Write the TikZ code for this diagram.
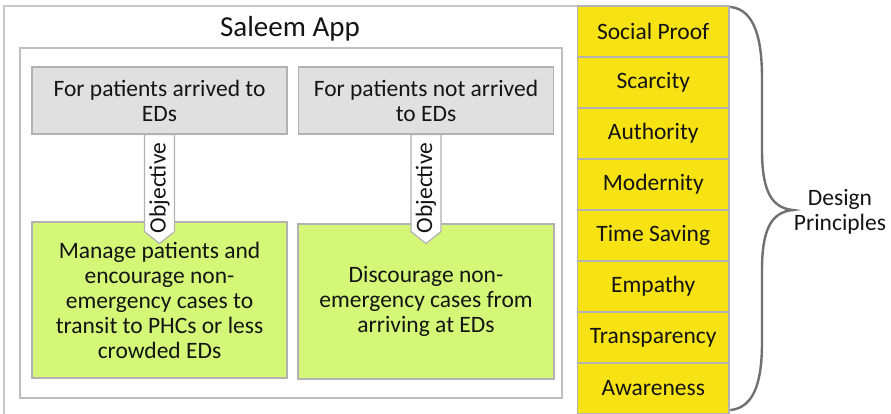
\documentclass[tikz,border=0pt]{standalone}
\usepackage{fontspec}
\setmainfont{Carlito}
\definecolor{framegray}{RGB}{200,200,200}
\definecolor{boxline}{RGB}{178,178,178}
\definecolor{headfill}{RGB}{224,224,224}
\definecolor{goalfill}{RGB}{213,247,120}
\definecolor{principlefill}{RGB}{247,226,20}
\definecolor{bracegray}{RGB}{112,112,112}
\definecolor{ink}{RGB}{20,20,20}
\begin{document}
\begin{tikzpicture}[x=1pt,y=-1pt,
  every node/.style={text=ink, font=\fontsize{23.5}{25}\selectfont},
  frame/.style={draw=framegray, line width=1.3pt, fill=white, inner sep=0pt},
  headbox/.style={draw=boxline, line width=1.2pt, fill=headfill, align=center,
    minimum width=255pt, minimum height=67pt, inner sep=0pt},
  goalbox/.style={draw=boxline, line width=1.2pt, fill=goalfill, align=center,
    minimum width=255pt, minimum height=156pt, inner sep=0pt},
  principle/.style={draw=boxline, line width=1.2pt, fill=principlefill,
    minimum width=151.5pt, minimum height=51pt, inner sep=0pt},
  objarrow/.style={draw=boxline, line width=1.2pt, fill=white, line join=miter},
  bracestyle/.style={draw=bracegray, line width=2.4pt, line cap=round}
]
\useasboundingbox (0,0) rectangle (891,413);

% app frame and its title
\node[frame, minimum width=574pt, minimum height=420pt] (app) at (291,216) {};
\node[anchor=base, font=\fontsize{29}{32}\selectfont] (title) at (290,36.7) {Saleem App};
\node[frame, draw=framegray!95!black, minimum width=542pt, minimum height=350pt] (inner) at (291,223) {};

% target groups
\node[headbox] (arrived) at (159.5,100.5) {For patients arrived to\\EDs};
\node[headbox] (notarrived) at (426,100.5) {For patients not arrived\\to EDs};

% objectives
\node[goalbox] (manage) at (159.5,300) {Manage patients and\\encourage non-\\emergency cases to\\transit to PHCs or less\\crowded EDs};
\node[goalbox, minimum width=256pt, minimum height=155pt] (discourage) at (426,301.5) {Discourage non-\\emergency cases from\\arriving at EDs};

% objective connectors
\draw[objarrow] (arrived.south) ++(-15,0) -- ++(0,97) -- ++(15,12) -- ++(15,-12) -- ++(0,-97) -- cycle;
\node[rotate=90] (obj1) at (159.5,188) {Objective};
\draw[objarrow] (notarrived.south) ++(-15,0) -- ++(0,97) -- ++(15,12) -- ++(15,-12) -- ++(0,-97) -- cycle;
\node[rotate=90] (obj2) at (426,188) {Objective};

% design principles column, rows 51pt apart
\node[principle] (p1) at (653.25,31.5)  {Social Proof};
\node[principle] (p2) at (653.25,82.5)  {Scarcity};
\node[principle] (p3) at (653.25,133.5) {Authority};
\node[principle] (p4) at (653.25,184.5) {Modernity};
\node[principle] (p5) at (653.25,235.5) {Time Saving};
\node[principle] (p6) at (653.25,286.5) {Empathy};
\node[principle] (p7) at (653.25,337.5) {Transparency};
\node[principle] (p8) at (653.25,388.5) {Awareness};

% curly brace grouping the principles
\coordinate (btop) at (731,7);
\coordinate (bbot) at (731,410);
\coordinate (btip) at (793,210);
\draw[bracestyle] (btop) .. controls (755,10) and (762,40) .. (762,78)
  -- (762,150) .. controls (762,192) and (772,208) .. (btip)
  .. controls (772,212) and (762,228) .. (762,270)
  -- (762,342) .. controls (762,380) and (755,407) .. (bbot);
\node[align=center] (design) at (840,212) {Design\\Principles};
\end{tikzpicture}
\end{document}
